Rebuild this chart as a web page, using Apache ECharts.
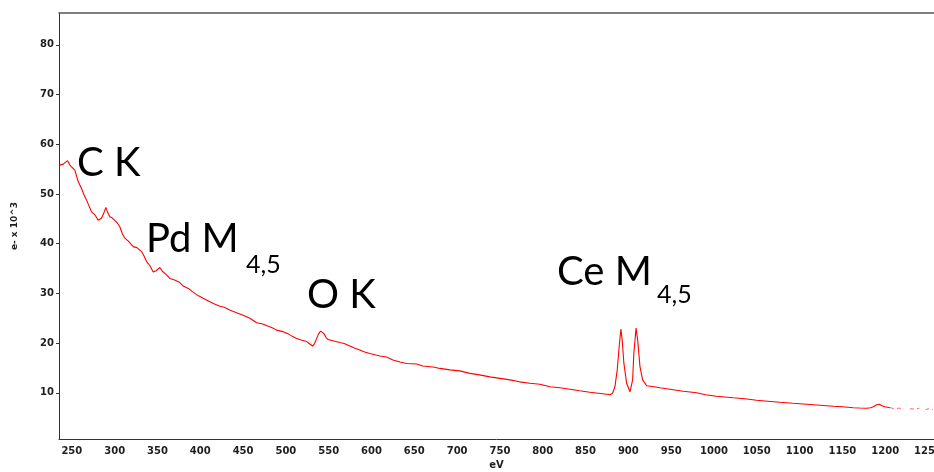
<!DOCTYPE html>
<html>
<head>
<meta charset="utf-8">
<script src="https://cdn.jsdelivr.net/npm/echarts@6/dist/echarts.min.js"></script>
<style>
  html, body { margin: 0; padding: 0; background: #fff; }
  #chart { width: 934px; height: 472px; }
</style>
</head>
<body>
<div id="chart"></div>
<script>
// EELS spectrum, energy loss (eV) vs counts (e- x 10^3)
const energy = [
  236, 240, 245, 247.7, 250, 253.5, 257.4, 261.3, 264, 267.1, 270, 273, 276.9, 280.7, 284.6, 287, 289.7, 292, 294.4, 297,
  300.2, 303, 306, 309, 311.9, 316, 321.6, 326, 331.4, 334, 337.3, 341, 345, 348, 352.8, 356, 360.6, 364.5, 370, 375,
  380, 386, 392, 398, 403.4, 410, 416, 422.9, 428, 435, 442.4, 450, 458, 465.8, 472, 478, 484, 489.1, 496.8, 503,
  508, 512.5, 518, 524.2, 528, 531.2, 533.5, 535.9, 538, 540.5, 542, 544.4, 547, 549.4, 556, 563, 568, 574.8, 580, 586.4,
  592, 598.1, 605, 610, 617.6, 625, 633.2, 641, 652.7, 660, 672.1, 680, 691.6, 703, 715, 726, 738.3, 750, 761.7, 773,
  785, 796.7, 808.4, 820, 831.8, 843, 855.1, 865, 874.6, 878.5, 881.6, 884.3, 887, 889.3, 891.3, 892.8, 894.8, 898, 901.9, 905,
  906.4, 909, 910.9, 913.6, 916.7, 921.4, 930, 937, 948.6, 964.2, 979.8, 990, 1003, 1022.5, 1036, 1049.8, 1063, 1077.1, 1092, 1108.3,
  1124, 1139.4, 1150, 1162.7, 1170, 1178.3, 1183, 1186.1, 1190, 1193.1, 1196, 1199.8, 1205.6
];
const counts = [
  55.8, 56.0, 56.7, 55.8, 55.4, 54.8, 52.5, 51.1, 49.9, 48.8, 47.6, 46.4, 45.8, 44.7, 45.1, 46.0, 47.3, 46.2, 45.4, 45.2,
  44.7, 44.2, 43.4, 42.0, 41.1, 40.5, 39.4, 39.2, 38.4, 37.6, 36.4, 35.6, 34.3, 34.5, 35.2, 34.4, 33.7, 33.0, 32.7, 32.3,
  31.5, 31.0, 30.2, 29.5, 29.0, 28.4, 27.9, 27.4, 27.2, 26.6, 26.1, 25.6, 25.0, 24.1, 23.9, 23.5, 23.1, 22.6, 22.3, 21.8,
  21.3, 20.9, 20.6, 20.3, 19.8, 19.4, 19.9, 20.9, 21.8, 22.4, 22.5, 21.9, 21.1, 20.7, 20.4, 20.1, 19.9, 19.4, 19.0, 18.6,
  18.2, 17.9, 17.6, 17.4, 17.2, 16.6, 16.2, 15.9, 15.8, 15.4, 15.2, 14.9, 14.6, 14.4, 13.9, 13.6, 13.2, 12.9, 12.6, 12.2,
  11.9, 11.7, 11.2, 11.0, 10.7, 10.4, 10.1, 9.9, 9.7, 9.6, 9.9, 11.2, 14.6, 19.3, 22.8, 20.6, 15.9, 11.9, 10.2, 12.6,
  17.9, 23.0, 20.6, 15.2, 12.6, 11.4, 11.2, 11.0, 10.7, 10.3, 10.0, 9.6, 9.3, 9.0, 8.8, 8.5, 8.3, 8.1, 7.9, 7.7,
  7.5, 7.3, 7.2, 7.0, 6.95, 6.9, 7.0, 7.2, 7.6, 7.7, 7.4, 7.2, 7.0
];
// faint broken tail at the high-energy end ('-' = gap)
const tailEnergy = [1205.6, 1211, 1216, 1222, 1225, 1229, 1234, 1240, 1243, 1247, 1251, 1256];
const tailCounts = [7.0, 6.8, 6.9, 6.8, '-', 6.8, 6.7, 6.9, '-', 6.6, 6.8, 6.6];

const xTicks = [250, 300, 350, 400, 450, 500, 550, 600, 650, 700, 750, 800, 850, 900, 950, 1000, 1050, 1100, 1150, 1200, 1250];
const yTicks = [10, 20, 30, 40, 50, 60, 70, 80];

const chart = echarts.init(document.getElementById("chart"));

const labelStyle = { color: "#1e1e1e", fontSize: 10, fontWeight: "bold", fontFamily: "DejaVu Sans" };
const noteFont = "40px Lato";
const subFont = "25px Lato";

const option = {
  animation: false,
  backgroundColor: "#fff",
  grid: { left: 59, right: 0, top: 13, bottom: 33, outerBoundsMode: "none", containLabel: false },
  xAxis: [
    {
      type: "value",
      min: 235,
      max: 1257,
      name: "eV",
      nameLocation: "middle",
      nameGap: 21,
      nameTextStyle: labelStyle,
      axisLine: { show: true, onZero: false, lineStyle: { color: "#333", width: 1 } },
      axisTick: { show: false },
      axisLabel: { ...labelStyle, margin: 7, customValues: xTicks, formatter: (v) => String(v) },
      splitLine: { show: false },
    },
    {
      // top border
      type: "value",
      position: "top",
      min: 235,
      max: 1257,
      axisLine: { show: true, lineStyle: { color: "#555", width: 1.5 } },
      axisTick: { show: false },
      axisLabel: { show: false },
      splitLine: { show: false },
    },
  ],
  yAxis: {
    type: "value",
    min: 0.7,
    max: 86.4,
    name: "e- x 10^3",
    nameLocation: "middle",
    nameGap: 40,
    nameRotate: 90,
    nameTextStyle: { ...labelStyle, fontSize: 9 },
    axisLine: { show: true, onZero: false, lineStyle: { color: "#333", width: 1 } },
    axisTick: { show: true, length: 3, customValues: yTicks, lineStyle: { color: "#333" } },
    axisLabel: { ...labelStyle, margin: 5, customValues: yTicks, formatter: (v) => String(v) },
    splitLine: { show: false },
  },
  series: [
    {
      name: "spectrum",
      type: "line",
      data: energy.map((e, i) => [e, counts[i]]),
      symbol: "none",
      lineStyle: { color: "#ff0000", width: 1.1 },
    },
    {
      name: "tail",
      type: "line",
      data: tailEnergy.map((e, i) => [e, tailCounts[i]]),
      symbol: "none",
      connectNulls: false,
      lineStyle: { color: "#ff6a6a", width: 1, type: [4, 3] },
    },
  ],
  graphic: [
    { type: "text", x: 77, y: 163, style: { text: "C K", font: noteFont, fill: "#000", align: "left", verticalAlign: "middle" } },
    { type: "text", x: 146, y: 239, style: { text: "Pd M", font: noteFont, fill: "#000", align: "left", verticalAlign: "middle" } },
    { type: "text", x: 246, y: 265, style: { text: "4,5", font: subFont, fill: "#000", align: "left", verticalAlign: "middle" } },
    { type: "text", x: 307, y: 295, style: { text: "O K", font: noteFont, fill: "#000", align: "left", verticalAlign: "middle" } },
    { type: "text", x: 557, y: 272, style: { text: "Ce M", font: noteFont, fill: "#000", align: "left", verticalAlign: "middle" } },
    { type: "text", x: 657, y: 295, style: { text: "4,5", font: subFont, fill: "#000", align: "left", verticalAlign: "middle" } },
  ],
};

chart.setOption(option);
</script>
</body>
</html>
